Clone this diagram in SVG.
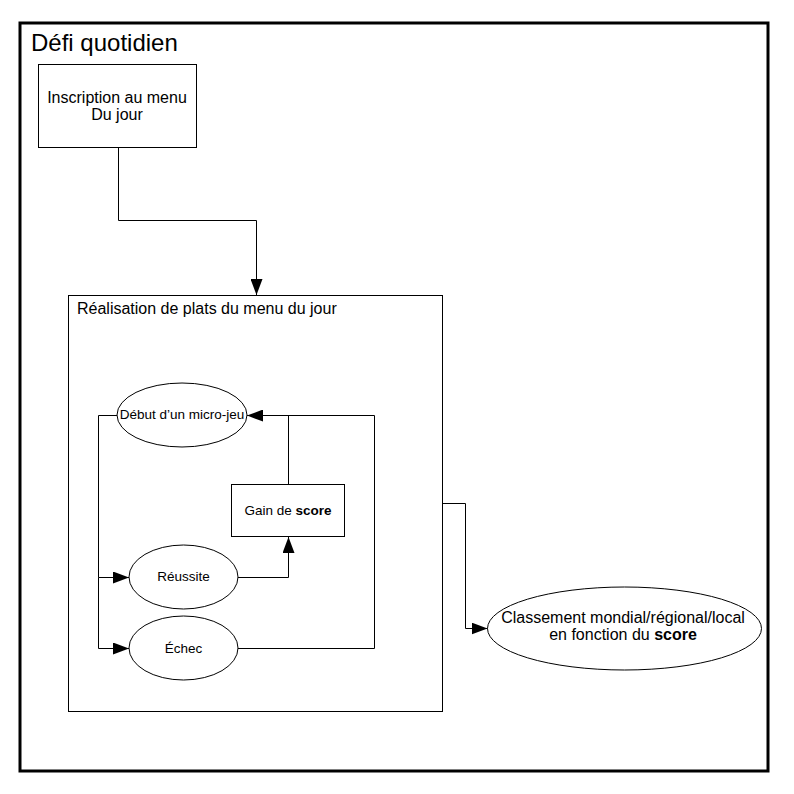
<svg xmlns="http://www.w3.org/2000/svg" width="794" height="794" viewBox="0 0 794 794">
<style>
text{font-family:"Liberation Sans",Arial,sans-serif;fill:#000}
.box{fill:#fff;stroke:#000;stroke-width:1}
.c{fill:none;stroke:#000;stroke-width:1}
</style>
<defs>
<marker id="ah" markerWidth="16" markerHeight="12" refX="16" refY="6" orient="auto" markerUnits="userSpaceOnUse">
<path d="M0,0 L16,6 L0,12 Z" fill="#000"/>
</marker>
</defs>
<rect width="794" height="794" fill="#fff"/>
<g id="frame">
<rect x="20" y="23" width="748" height="748" fill="none" stroke="#000" stroke-width="3"/>
<text x="31" y="51" font-size="24">Défi quotidien</text>
</g>
<g id="inscription">
<rect class="box" x="38.5" y="64.5" width="158" height="83"/>
<text x="117" y="103" font-size="16" text-anchor="middle">Inscription au menu</text>
<text x="117" y="120" font-size="16" text-anchor="middle">Du jour</text>
</g>
<g id="realisation">
<rect class="box" x="68.5" y="295.5" width="374" height="416"/>
<text x="77" y="314" font-size="16">Réalisation de plats du menu du jour</text>
</g>
<g id="debut">
<ellipse class="box" cx="182" cy="415" rx="65" ry="32"/>
<text x="182" y="419" font-size="13.5" text-anchor="middle">Début d’un micro-jeu</text>
</g>
<g id="gain">
<rect class="box" x="231.5" y="484.5" width="113" height="52"/>
<text x="288" y="515" font-size="13.5" text-anchor="middle">Gain de <tspan font-weight="bold">score</tspan></text>
</g>
<g id="reussite">
<ellipse class="box" cx="183.5" cy="577" rx="54.5" ry="32"/>
<text x="183.5" y="581" font-size="13.5" text-anchor="middle">Réussite</text>
</g>
<g id="echec">
<ellipse class="box" cx="183.5" cy="648" rx="54.5" ry="32"/>
<text x="183.5" y="653" font-size="13.5" text-anchor="middle">Échec</text>
</g>
<g id="classement">
<ellipse class="box" cx="624.5" cy="628.5" rx="137" ry="41.5"/>
<text x="623" y="623" font-size="16" text-anchor="middle">Classement mondial/régional/local</text>
<text x="623" y="640" font-size="16" text-anchor="middle">en fonction du <tspan font-weight="bold">score</tspan></text>
</g>
<g id="connectors">
<path class="c" d="M118.5,148 V220.5 H256.5 V295" marker-end="url(#ah)"/>
<path class="c" d="M117,415.5 H98.5 V577.5 H129" marker-end="url(#ah)"/>
<path class="c" d="M98.5,577.5 V648.5 H129" marker-end="url(#ah)"/>
<path class="c" d="M238,577.5 H288.5 V537" marker-end="url(#ah)"/>
<path class="c" d="M288.5,484 V415.5"/>
<path class="c" d="M238,648.5 H374.5 V415.5 H247" marker-end="url(#ah)"/>
<path class="c" d="M443,503.5 H465.5 V628.5 H487.5" marker-end="url(#ah)"/>
</g>
</svg>
